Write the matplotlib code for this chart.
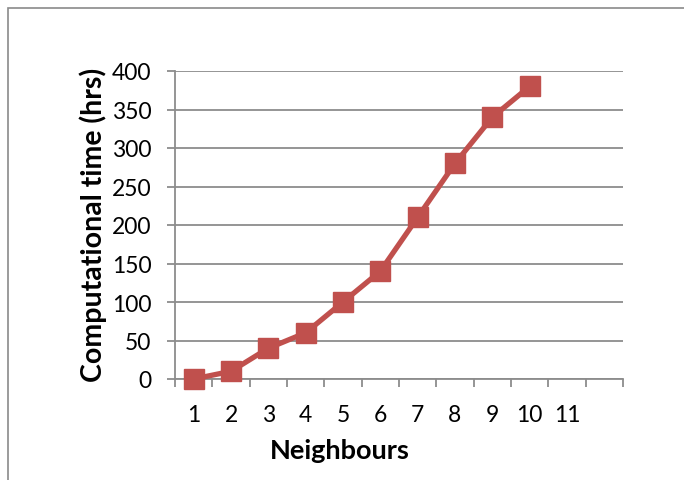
import matplotlib
matplotlib.use("Agg")
import matplotlib.pyplot as plt
from matplotlib.patches import Rectangle

plt.rcParams['font.family'] = ['Lato', 'DejaVu Sans']

neighbours = [1, 2, 3, 4, 5, 6, 7, 8, 9, 10]
comp_time = [0, 10, 40, 60, 100, 140, 210, 280, 340, 380]
x_labels = ['1', '2', '3', '4', '5', '6', '7', '8', '9', '10', '11']
y_ticks = [0, 50, 100, 150, 200, 250, 300, 350, 400]

fig = plt.figure(figsize=(6.84, 4.81), dpi=100)
# outer chart frame, cut off at right and bottom like the screenshot
fig.patches.append(Rectangle((8 / 684, -0.1), 1.0, 1 - 9 / 481 + 0.1,
                             transform=fig.transFigure, fill=False,
                             edgecolor='#8a8a8a', linewidth=1.2))

ax = fig.add_axes([175 / 684, 1 - 380 / 481, 448 / 684, 308 / 481])
grid_c = '#8c8c8c'

ax.plot(neighbours, comp_time, color='#C0504D', linewidth=3.8,
        marker='s', markersize=14, zorder=3, clip_on=False)

ax.set_xlim(0.5, 12.5)
ax.set_ylim(0, 400)
ax.set_yticks(y_ticks)
ax.yaxis.grid(True, color=grid_c, linewidth=1.3)
ax.set_axisbelow(True)

ax.set_xticks([i + 0.5 for i in range(0, 13)])
ax.set_xticklabels([])
ax.set_xticks(list(range(1, 12)), minor=True)
ax.set_xticklabels(x_labels, minor=True)
ax.tick_params(axis='x', which='major', length=6, width=1.3, color=grid_c, direction='out')
ax.tick_params(axis='x', which='minor', length=0, pad=18, labelsize=16.5)
ax.tick_params(axis='y', length=6, width=1.3, color=grid_c, direction='out', pad=11, labelsize=16.5)

for s in ['top', 'right']:
    ax.spines[s].set_visible(False)
for s in ['left', 'bottom']:
    ax.spines[s].set_color(grid_c)
    ax.spines[s].set_linewidth(1.3)

ax.set_xlabel('Neighbours', fontsize=19.5, fontweight='bold')
ax.xaxis.set_label_coords((340 - 175) / 448, -0.192)
ax.set_ylabel('Computational time (hrs)', fontsize=20.5, fontweight='bold')
ax.yaxis.set_label_coords((107 - 175) / 448, 0.503)

fig.savefig('out.png', dpi=100)
